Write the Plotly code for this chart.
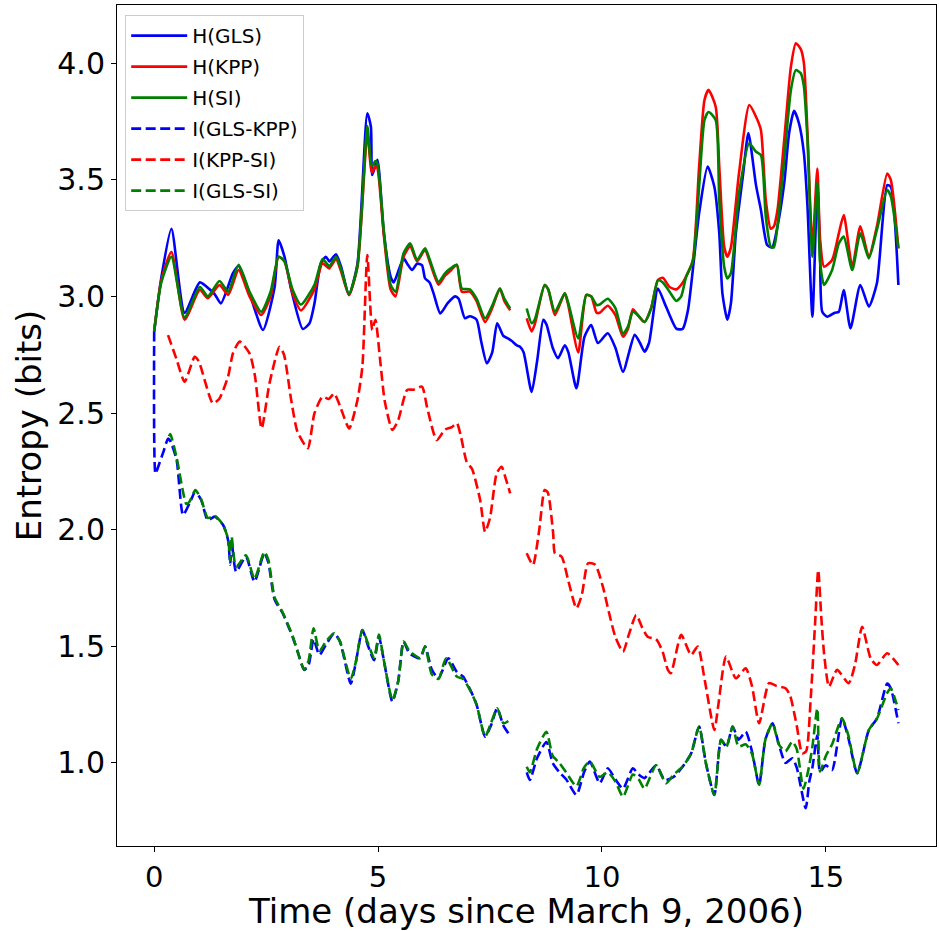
import plotly.graph_objects as go

# ---------------- data ----------------
t_h_gls = [0, 0.16, 0.385, 0.68, 1.02, 1.24, 1.35, 1.49, 1.76, 1.885, 2.15, 2.43, 2.69, 2.78, 2.91, 3.06, 3.32, 3.47, 3.58, 3.72,
           3.835, 3.91, 4.06, 4.17, 4.35, 4.54, 4.76, 4.84, 4.87, 4.985, 5.13, 5.28, 5.35, 5.57, 5.65, 5.76, 5.87, 5.98, 6.05, 6.15,
           6.24, 6.39, 6.55, 6.72, 6.8, 6.94, 7.05, 7.2, 7.3, 7.43, 7.55, 7.66, 7.8, 7.9, 7.98, 8.1, 8.17, 8.25, 8.43, 8.55,
           8.69, 8.76, 8.9, 9.02, 9.17, 9.25, 9.43, 9.61, 9.76, 9.91, 10.13, 10.3, 10.47, 10.73, 10.85, 10.95, 11.05, 11.25, 11.4, 11.51,
           11.66, 11.8, 11.92, 12.05, 12.17, 12.36, 12.51, 12.62, 12.69, 12.8, 12.88, 12.99, 13.15, 13.27, 13.44, 13.55, 13.69, 13.8, 13.92, 14.07,
           14.18, 14.29, 14.4, 14.51, 14.59, 14.7, 14.81, 14.87, 14.92, 15.03, 15.2, 15.29, 15.4, 15.55, 15.77, 15.96, 16.14, 16.37, 16.45, 16.62]
h_gls = [2.85, 3.08, 3.29, 2.93, 3.06, 3.03, 3.01, 2.97, 3.10, 3.13, 3.0, 2.856, 3.04, 3.24, 3.17, 3.03, 2.86, 2.885, 2.97, 3.14,
         3.17, 3.15, 3.18, 3.13, 3.006, 3.14, 3.785, 3.727, 3.52, 3.585, 3.27, 3.085, 3.06, 3.163, 3.14, 3.113, 3.14, 3.134, 3.077, 3.06,
         3.013, 2.927, 2.97, 3.0, 2.99, 2.906, 2.915, 2.90, 2.81, 2.713, 2.76, 2.885, 2.83, 2.82, 2.81, 2.79, 2.784, 2.76, 2.59, 2.72,
         2.90, 2.88, 2.78, 2.735, 2.79, 2.76, 2.606, 2.827, 2.877, 2.80, 2.842, 2.78, 2.677, 2.835, 2.80, 2.763, 2.80, 3.034, 2.97, 2.92,
         2.862, 2.86, 2.94, 3.15, 3.356, 3.556, 3.47, 3.27, 3.013, 2.90, 2.97, 3.27, 3.52, 3.70, 3.477, 3.37, 3.22, 3.21, 3.30, 3.484,
         3.70, 3.795, 3.742, 3.614, 3.385, 2.913, 3.47, 3.2, 2.934, 2.913, 2.93, 2.934, 3.027, 2.863, 3.049, 2.956, 3.056, 3.477, 3.47, 3.049]

t_h = [0, 0.16, 0.385, 0.68, 1.02, 1.2, 1.46, 1.65, 1.885, 2.13, 2.39, 2.6, 2.78, 2.91, 3.09, 3.28, 3.58, 3.76, 3.91, 4.06,
       4.17, 4.35, 4.54, 4.76, 4.84, 4.87, 4.94, 4.985, 5.13, 5.28, 5.39, 5.57, 5.72, 5.87, 6.05, 6.15, 6.35, 6.5, 6.62, 6.76,
       6.87, 7.05, 7.2, 7.39, 7.55, 7.72, 7.82, 7.95, None, 8.32, 8.43, 8.5, 8.72, 8.8, 8.95, 9.17, 9.25, 9.47, 9.65, 9.76,
       9.88, 9.95, 10.13, 10.3, 10.47, 10.58, 10.69, 10.8, 10.95, 11.1, 11.25, 11.36, 11.51, 11.66, 11.77, 11.88, 12.03, 12.17, 12.29, 12.38,
       12.54, 12.62, 12.73, 12.8, 12.88, 13.06, 13.29, 13.44, 13.55, 13.66, 13.77, 13.84, 13.92, 14.07, 14.22, 14.33, 14.44, 14.51, 14.59, 14.70,
       14.81, 14.87, 14.96, 15.14, 15.29, 15.40, 15.59, 15.77, 15.96, 16.14, 16.37, 16.45, 16.62]
h_kpp = [2.85, 3.07, 3.19, 2.90, 3.027, 2.992, 3.049, 3.006, 3.113, 3.0, 2.92, 3.0, 3.17, 3.15, 3.013, 2.94, 3.03, 3.142, 3.12, 3.16,
         3.11, 3.006, 3.127, 3.70, 3.55, 3.53, 3.56, 3.55, 3.26, 3.03, 3.00, 3.17, 3.215, 3.15, 3.20, 3.15, 3.05, 3.09, 3.11, 3.135,
         3.02, 3.02, 2.98, 2.89, 2.95, 3.034, 2.98, 2.94, None, 2.906, 2.85, 2.88, 3.049, 3.03, 2.92, 3.013, 2.96, 2.76, 3.006, 3.0,
         2.93, 2.93, 2.96, 2.92, 2.827, 2.86, 2.945, 2.92, 2.89, 2.95, 3.07, 3.08, 3.04, 3.03, 3.05, 3.085, 3.156, 3.556, 3.842, 3.885,
         3.813, 3.556, 3.213, 3.17, 3.21, 3.527, 3.82, 3.77, 3.713, 3.41, 3.29, 3.30, 3.37, 3.67, 3.985, 4.085, 4.06, 4.0, 3.70, 3.213,
         3.548, 3.25, 3.127, 3.156, 3.27, 3.349, 3.127, 3.30, 3.17, 3.30, 3.527, 3.50, 3.206]
h_si = [2.85, 3.06, 3.17, 2.91, 3.04, 3.00, 3.066, 3.02, 3.135, 3.02, 2.934, 3.02, 3.17, 3.15, 3.03, 2.965, 3.05, 3.16, 3.13, 3.17,
        3.12, 3.01, 3.13, 3.73, 3.57, 3.56, 3.58, 3.57, 3.28, 3.05, 3.02, 3.185, 3.227, 3.156, 3.206, 3.16, 3.063, 3.10, 3.12, 3.135,
        3.034, 3.03, 2.99, 2.906, 2.96, 3.034, 2.99, 2.948, None, 2.948, 2.885, 2.90, 3.049, 3.03, 2.934, 3.013, 2.97, 2.82, 3.006, 3.0,
        2.963, 2.965, 2.99, 2.95, 2.84, 2.87, 2.934, 2.92, 2.89, 2.95, 3.07, 3.06, 3.02, 2.98, 3.00, 3.085, 3.15, 3.47, 3.756, 3.79,
        3.756, 3.41, 3.127, 3.077, 3.10, 3.44, 3.656, 3.62, 3.606, 3.34, 3.213, 3.21, 3.30, 3.585, 3.885, 3.97, 3.956, 3.90, 3.67, 3.17,
        3.49, 3.15, 3.049, 3.113, 3.227, 3.256, 3.113, 3.27, 3.163, 3.285, 3.456, 3.43, 3.206]

t_i_gk = [0, 0.03, 0.09, 0.2, 0.31, 0.36, 0.5, 0.645, 0.79, 0.92, 1.05, 1.20, 1.35, 1.54, 1.65, 1.70, 1.73, 1.83, 2.05, 2.24,
          2.46, 2.55, 2.69, 2.87, 3.09, 3.2, 3.35, 3.45, 3.56, 3.69, 3.835, 4.02, 4.15, 4.39, 4.50, 4.65, 4.78, 4.91, 5.02, 5.12,
          5.32, 5.45, 5.57, 5.7, 5.94, 6.05, 6.2, 6.35, 6.57, 6.76, 6.9, 7.06, 7.2, 7.39, 7.52, 7.66, 7.8, 7.91, None, 8.32,
          8.39, 8.55, 8.76, 8.9, 9.05, 9.2, 9.43, 9.6, 9.73, 9.95, 10.13, 10.3, 10.47, 10.69, 10.82, 10.95, 11.21, 11.40, 11.6, 11.80,
          11.99, 12.17, 12.32, 12.51, 12.66, 12.78, 12.92, 13.05, 13.21, 13.35, 13.51, 13.65, 13.81, 13.95, 14.1, 14.25, 14.35, 14.55, 14.63, 14.70,
          14.81, 14.87, 15.0, 15.14, 15.36, 15.5, 15.70, 15.96, 16.14, 16.37, 16.45, 16.62]
i_gls_kpp = [2.85, 2.24, 2.27, 2.33, 2.39, 2.38, 2.30, 2.063, 2.113, 2.163, 2.127, 2.04, 2.056, 2.02, 1.956, 1.85, 1.95, 1.82, 1.884, 1.777,
             1.899, 1.86, 1.70, 1.642, 1.541, 1.48, 1.399, 1.42, 1.53, 1.463, 1.506, 1.556, 1.52, 1.34, 1.427, 1.57, 1.50, 1.44, 1.541, 1.45,
             1.263, 1.35, 1.52, 1.47, 1.449, 1.499, 1.40, 1.363, 1.449, 1.39, 1.37, 1.313, 1.25, 1.113, 1.16, 1.234, 1.16, 1.127, None, 0.96,
             0.927, 1.02, 1.09, 1.0, 0.96, 0.93, 0.863, 0.96, 1.006, 0.913, 0.977, 0.93, 0.89, 0.977, 0.95, 0.935, 0.99, 0.927, 0.94, 0.984,
             1.04, 1.156, 1.0, 0.863, 1.099, 1.07, 1.156, 1.10, 1.134, 1.05, 0.906, 1.10, 1.17, 1.08, 1.00, 1.02, 0.98, 0.806, 0.92, 0.98,
             1.12, 0.963, 0.99, 0.97, 1.191, 1.11, 0.956, 1.141, 1.19, 1.34, 1.32, 1.17]

t_i_ks = [0.31, 0.5, 0.68, 0.905, 1.0, 1.31, 1.45, 1.65, 1.76, 1.91, 2.13, 2.25, 2.40, 2.575, 2.80, 2.9, 3.06, 3.2, 3.43, 3.58,
          3.76, 3.9, 4.02, 4.15, 4.355, 4.54, 4.65, 4.76, 4.87, 4.94, 5.05, 5.15, 5.32, 5.45, 5.65, 5.79, 5.98, 6.1, 6.31, 6.5,
          6.65, 6.76, 6.85, 6.98, 7.1, 7.28, 7.39, 7.5, 7.65, 7.76, 7.85, 7.95, None, 8.32, 8.46, 8.6, 8.72, 8.79, 8.91, 8.95,
          9.10, 9.25, 9.43, 9.55, 9.69, 9.85, 10.02, 10.15, 10.3, 10.47, 10.6, 10.765, 10.9, 11.02, 11.21, 11.35, 11.47, 11.54, 11.77, 11.99,
          12.14, 12.3, 12.51, 12.6, 12.77, 12.99, 13.21, 13.35, 13.51, 13.73, 13.9, 14.10, 14.2, 14.35, 14.47, 14.56, 14.66, 14.76, 14.83, 14.9,
          14.96, 15.07, 15.25, 15.51, 15.65, 15.81, 16.0, 16.14, 16.37, 16.62]
i_kpp_si = [2.834, 2.73, 2.634, 2.741, 2.72, 2.542, 2.56, 2.656, 2.756, 2.806, 2.756, 2.66, 2.434, 2.627, 2.784, 2.75, 2.556, 2.42, 2.349, 2.499,
            2.57, 2.56, 2.584, 2.53, 2.434, 2.556, 2.7, 3.177, 2.856, 2.90, 2.72, 2.55, 2.427, 2.47, 2.599, 2.60, 2.613, 2.52, 2.384, 2.43,
            2.44, 2.456, 2.40, 2.29, 2.26, 2.127, 1.991, 2.05, 2.242, 2.27, 2.22, 2.156, None, 1.899, 1.849, 2.0, 2.17, 2.16, 1.985, 1.899,
            1.884, 1.78, 1.663, 1.72, 1.856, 1.85, 1.756, 1.65, 1.54, 1.477, 1.55, 1.634, 1.58, 1.541, 1.53, 1.48, 1.40, 1.385, 1.549, 1.463,
            1.499, 1.35, 1.141, 1.25, 1.456, 1.363, 1.406, 1.33, 1.17, 1.342, 1.33, 1.32, 1.29, 1.16, 1.041, 1.05, 1.27, 1.6, 1.827, 1.62,
            1.47, 1.327, 1.399, 1.342, 1.42, 1.584, 1.449, 1.42, 1.47, 1.42]

t_i_gs = [0.33, 0.36, 0.5, 0.72, 0.79, 0.92, 1.05, 1.20, 1.35, 1.54, 1.65, 1.70, 1.73, 1.83, 2.05, 2.24, 2.46, 2.55, 2.69, 2.87,
          3.09, 3.2, 3.35, 3.45, 3.56, 3.69, 3.835, 4.02, 4.15, 4.39, 4.50, 4.65, 4.78, 4.91, 5.02, 5.12, 5.32, 5.45, 5.57, 5.7,
          5.94, 6.05, 6.2, 6.35, 6.52, 6.76, 6.9, 7.06, 7.2, 7.39, 7.52, 7.66, 7.8, 7.91, None, 8.32, 8.39, 8.55, 8.76, 8.9,
          9.05, 9.2, 9.43, 9.6, 9.73, 9.95, 10.13, 10.3, 10.47, 10.69, 10.82, 10.95, 11.21, 11.43, 11.6, 11.80, 11.99, 12.17, 12.32, 12.51,
          12.66, 12.78, 12.92, 13.05, 13.21, 13.35, 13.51, 13.65, 13.81, 13.95, 14.1, 14.25, 14.35, 14.5, 14.63, 14.70, 14.81, 14.87, 15.0, 15.14,
          15.36, 15.5, 15.70, 15.96, 16.14, 16.37, 16.45, 16.62]
i_gls_si = [2.40, 2.41, 2.31, 2.11, 2.12, 2.17, 2.13, 2.05, 2.06, 2.02, 1.96, 1.87, 1.97, 1.84, 1.89, 1.79, 1.905, 1.87, 1.71, 1.645,
            1.545, 1.48, 1.40, 1.44, 1.577, 1.48, 1.52, 1.556, 1.52, 1.36, 1.43, 1.57, 1.51, 1.45, 1.55, 1.45, 1.27, 1.35, 1.52, 1.48,
            1.45, 1.50, 1.38, 1.36, 1.449, 1.37, 1.36, 1.31, 1.25, 1.113, 1.17, 1.234, 1.17, 1.18, None, 0.984, 0.96, 1.06, 1.134, 1.03,
            1.0, 0.96, 0.90, 0.98, 1.006, 0.94, 0.96, 0.92, 0.855, 0.95, 0.93, 0.89, 0.99, 0.913, 0.95, 0.984, 1.04, 1.156, 1.0, 0.863,
            1.099, 1.07, 1.156, 1.07, 1.08, 1.04, 0.906, 1.10, 1.17, 1.08, 1.05, 1.091, 1.06, 0.89, 0.99, 1.07, 1.234, 0.963, 1.03, 1.08,
            1.191, 1.12, 0.956, 1.141, 1.19, 1.30, 1.32, 1.226]

x_ticks = [0, 5, 10, 15]
y_ticks = [1.0, 1.5, 2.0, 2.5, 3.0, 3.5, 4.0]

# ---------------- figure ----------------
BLUE, RED, GREEN = "#0000ff", "#ff0000", "#008000"
DASH = "10px,4.5px"
series = [
    ("H(GLS)", t_h_gls, h_gls, BLUE, "solid"),
    ("H(KPP)", t_h, h_kpp, RED, "solid"),
    ("H(SI)", t_h, h_si, GREEN, "solid"),
    ("I(GLS-KPP)", t_i_gk, i_gls_kpp, BLUE, DASH),
    ("I(KPP-SI)", t_i_ks, i_kpp_si, RED, DASH),
    ("I(GLS-SI)", t_i_gs, i_gls_si, GREEN, DASH),
]

fig = go.Figure()
for i, (name, xs, ys, col, dash) in enumerate(series):
    fig.add_trace(go.Scatter(
        x=xs, y=ys, mode="lines", name=name, legendgroup=f"g{i}",
        line=dict(color=col, width=2.6, dash=dash, shape="spline", smoothing=0.6),
        connectgaps=False,
    ))

FONT = "DejaVu Sans"
fig.update_layout(
    width=939, height=931,
    margin=dict(l=117, r=3, t=5, b=85),
    plot_bgcolor="white", paper_bgcolor="white",
    font=dict(family=FONT, color="black"),
    showlegend=True,
    legend=dict(
        x=0.01, y=0.988, xanchor="left", yanchor="top",
        font=dict(family=FONT, size=20, color="black"),
        bgcolor="rgba(255,255,255,0.8)", bordercolor="#cccccc", borderwidth=1,
        tracegroupgap=2, itemwidth=56,
    ),
    xaxis=dict(
        range=[-0.83, 17.46], tickvals=x_ticks, ticktext=[str(v) for v in x_ticks],
        ticks="outside", ticklen=5, tickwidth=1, tickcolor="black",
        showline=True, mirror=True, linecolor="black", linewidth=1,
        showgrid=False, zeroline=False,
        tickfont=dict(family=FONT, size=29),
        title=dict(text="Time (days since March 9, 2006)", font=dict(family=FONT, size=34), standoff=4),
        automargin=False,
    ),
    yaxis=dict(
        range=[0.644, 4.249], tickvals=y_ticks, ticktext=[f"{v:.1f}" for v in y_ticks],
        ticks="outside", ticklen=5, tickwidth=1, tickcolor="black",
        showline=True, mirror=True, linecolor="black", linewidth=1,
        showgrid=False, zeroline=False,
        tickfont=dict(family=FONT, size=30),
        title=dict(text="Entropy (bits)", font=dict(family=FONT, size=34), standoff=5),
    ),
)

fig.write_html("out.html")
